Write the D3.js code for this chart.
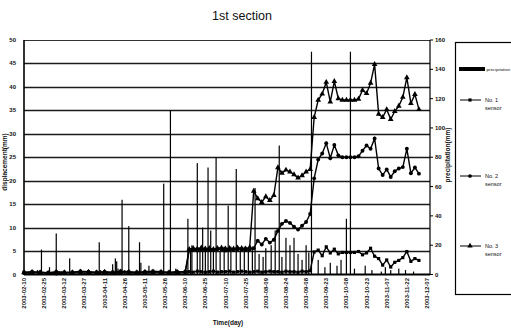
<!DOCTYPE html>
<html>
<head>
<meta charset="utf-8">
<script src="https://cdn.jsdelivr.net/npm/d3@7"></script>
<style>
  body { margin: 0; background: #fff; }
  svg { display: block; font-family: "Liberation Sans", Arial, sans-serif; }
</style>
</head>
<body>
<div id="chart"></div>
<script>
// tick labels along the time axis
const xTickLabels = ['2003-02-10', '2003-02-25', '2003-03-12', '2003-03-27', '2003-04-11', '2003-04-26',
  '2003-05-11', '2003-05-26', '2003-06-10', '2003-06-25', '2003-07-10', '2003-07-25', '2003-08-09',
  '2003-08-24', '2003-09-08', '2003-09-23', '2003-10-08', '2003-10-23', '2003-11-07', '2003-11-22', '2003-12-07'];
const leftTicks = [0, 5, 10, 15, 20, 25, 30, 35, 40, 45, 50];
const rightTicks = [0, 20, 40, 60, 80, 100, 120, 140, 160];

// sensor readings, day offsets from 2003-02-10
const sensorDays = [0, 6, 12, 18, 24, 30, 36, 42, 48, 54, 60, 66, 72, 78, 84, 90, 96, 102, 108, 114,
  120, 123, 126, 129, 132, 135, 138, 141, 144, 147, 150, 153, 156, 159, 162, 165, 168,
  171, 174, 177, 180, 183, 186, 189, 192, 195, 198, 201, 204, 207, 210, 213,
  216, 219, 222, 225, 228, 231, 234, 237, 240, 243, 246, 249, 252, 255, 258, 261, 264,
  267, 270, 273, 276, 279, 282, 285, 288, 291, 294];

const sensor1 = [0.5, 0.6, 0.5, 0.4, 0.6, 0.5, 0.5, 0.7, 0.6, 0.5, 0.6, 0.5, 0.7, 0.6, 0.5, 0.6, 0.7, 0.6, 0.5, 0.6,
  0.6, 0.6, 0.5, 0.7, 0.6, 0.5, 0.6, 0.7, 0.5, 0.6, 0.6, 0.7, 0.5, 0.6, 0.7, 0.6, 0.5,
  0.6, 0.7, 0.5, 0.6, 0.7, 0.6, 0.6, 0.5, 0.7, 0.6, 0.6, 0.5, 0.7, 0.6, 0.8,
  4.8, 5.2, 4.0, 5.9, 4.6, 5.4, 4.4, 4.7, 4.7, 4.7, 4.7, 4.9, 4.2, 4.6, 5.6, 3.9, 3.4,
  2.0, 3.1, 1.6, 2.6, 3.0, 3.6, 4.9, 2.8, 3.4, 3.0];

const sensor2 = [0.3, 0.3, 0.4, 0.3, 0.2, 0.3, 0.4, 0.3, 0.3, 0.4, 0.3, 0.3, 0.4, 0.3, 0.3, 0.4, 0.3, 0.4, 0.3, 0.3,
  0.4, 5.2, 5.3, 5.1, 5.4, 5.2, 5.3, 5.2, 5.4, 5.3, 5.1, 5.3, 5.2, 5.4, 5.3, 5.2, 5.4,
  5.6, 7.2, 6.4, 7.6, 6.8, 7.4, 9.3, 10.8, 11.4, 11.0, 10.2, 9.6, 10.4, 11.2, 12.9,
  20.5, 24.5, 25.8, 28.0, 24.8, 27.6, 25.4, 25.0, 25.0, 25.0, 25.0, 25.2, 26.4, 27.5, 26.8, 29.0, 22.6,
  21.2, 22.4, 20.8, 22.0, 22.6, 22.9, 26.8, 21.6, 22.8, 21.5];

const sensor3 = [0.4, 0.5, 0.4, 0.3, 0.5, 0.4, 0.4, 0.6, 0.5, 0.4, 0.5, 0.4, 0.6, 0.5, 0.4, 0.5, 0.6, 0.5, 0.4, 0.5,
  0.6, 5.4, 5.6, 5.5, 5.7, 5.5, 5.6, 5.4, 5.6, 5.7, 5.5, 5.6, 5.5, 5.7, 5.6, 5.5, 5.8,
  17.8, 16.2, 15.4, 16.6, 15.8, 16.9, 22.8, 21.6, 22.3, 21.9, 21.3, 20.6, 21.1, 21.9, 22.4,
  33.5, 37.2, 38.5, 41.0, 36.8, 41.2, 37.5, 37.2, 37.2, 37.2, 37.2, 37.4, 39.3, 38.6, 40.8, 44.8, 34.2,
  33.5, 35.2, 33.1, 34.8, 35.9, 37.8, 42.0, 36.5, 38.4, 35.2];

// daily precipitation (mm), day offsets from 2003-02-10
const rainDays = [3, 7, 10, 13, 14, 19, 24, 28, 34, 36, 45, 50, 56, 57, 62, 66, 68, 69, 70, 73,
  75, 78, 86, 87, 93, 97, 104, 109, 113, 116, 122, 124, 125, 129, 131, 133, 135, 137, 139, 141,
  143, 146, 149, 152, 154, 158, 161, 164, 167, 170, 172, 175, 178, 180, 184, 187, 190, 192, 195, 198,
  201, 204, 207, 210, 212, 214, 219, 224, 228, 233, 236, 240, 243, 246, 254, 259, 266, 269, 273, 279,
  284, 290];
const rainValues = [1, 2, 3, 17, 2, 5, 28, 2, 11, 1.5, 1, 2, 22, 3, 2, 7, 11, 9, 4, 51,
  3, 33, 22, 8, 6, 2, 62, 112, 4, 2, 38, 18, 20, 76, 18, 32, 19, 73, 30, 18,
  80, 16, 19, 47, 19, 72, 18, 19, 17, 19, 59, 14, 12, 18, 20, 30, 88, 12, 25, 20,
  25, 14, 10, 20, 15, 152, 10, 5, 8, 6, 10, 38, 152, 4, 6, 3, 2, 5, 3, 4,
  3, 2];

const W = 511, H = 331;
const plotLeft = 24, plotRight = 430, plotTop = 40, plotBottom = 274.5;

const start = new Date(Date.UTC(2003, 1, 10));
const toDate = d => d3.utcDay.offset(start, d);
const parse = d3.utcParse('%Y-%m-%d');

const x = d3.scaleUtc().domain([start, toDate(300)]).range([plotLeft, 427]);
const yL = d3.scaleLinear().domain([0, 50]).range([plotBottom, plotTop]);
const yR = d3.scaleLinear().domain([0, 160]).range([plotBottom, plotTop]);

const svg = d3.select('#chart').append('svg')
  .attr('width', W)
  .attr('height', H);

// title
svg.append('text')
  .attr('x', 242).attr('y', 20)
  .attr('text-anchor', 'middle')
  .attr('font-size', 12.5)
  .attr('fill', '#111')
  .text('1st section');

// grid
svg.append('g').selectAll('line')
  .data(leftTicks.filter(v => v > 0 && v < 50))
  .enter().append('line')
  .attr('x1', plotLeft).attr('x2', plotRight)
  .attr('y1', d => Math.round(yL(d)) + 0.5)
  .attr('y2', d => Math.round(yL(d)) + 0.5)
  .attr('stroke', '#1a1a1a')
  .attr('stroke-width', 1.3);

// precipitation bars
svg.append('g').selectAll('rect')
  .data(rainDays.map((d, i) => ({ d, v: rainValues[i] })))
  .enter().append('rect')
  .attr('x', d => x(toDate(d.d)) - 0.6)
  .attr('width', 1.2)
  .attr('y', d => yR(d.v))
  .attr('height', d => plotBottom - yR(d.v))
  .attr('fill', '#000');

// sensor series
const series = [
  { values: sensor1, symbol: d3.symbolSquare, size: 10 },
  { values: sensor2, symbol: d3.symbolCircle, size: 12 },
  { values: sensor3, symbol: d3.symbolTriangle, size: 14 }
];

const line = d3.line()
  .x(d => x(toDate(d.d)))
  .y(d => yL(d.v));

series.forEach(s => {
  const pts = sensorDays.map((d, i) => ({ d, v: s.values[i] }));
  const g = svg.append('g');
  g.append('path')
    .datum(pts)
    .attr('d', line)
    .attr('fill', 'none')
    .attr('stroke', '#000')
    .attr('stroke-width', 1.4);
  g.selectAll('path.mk')
    .data(pts)
    .enter().append('path')
    .attr('class', 'mk')
    .attr('transform', d => `translate(${x(toDate(d.d))},${yL(d.v)})`)
    .attr('d', d3.symbol().type(s.symbol).size(s.size))
    .attr('fill', '#000');
});

// frame
svg.append('line').attr('x1', plotLeft).attr('x2', plotRight).attr('y1', plotTop + 0.5).attr('y2', plotTop + 0.5)
  .attr('stroke', '#333').attr('stroke-width', 1);
svg.append('line').attr('x1', plotLeft).attr('x2', plotLeft).attr('y1', plotTop).attr('y2', plotBottom)
  .attr('stroke', '#000').attr('stroke-width', 1.6);
svg.append('line').attr('x1', plotRight).attr('x2', plotRight).attr('y1', plotTop).attr('y2', plotBottom)
  .attr('stroke', '#000').attr('stroke-width', 1.2);
svg.append('line').attr('x1', plotLeft).attr('x2', plotRight).attr('y1', plotBottom).attr('y2', plotBottom)
  .attr('stroke', '#000').attr('stroke-width', 1.8);

// left axis labels
svg.append('g').selectAll('text')
  .data(leftTicks)
  .enter().append('text')
  .attr('x', 16)
  .attr('y', d => yL(d) + 2)
  .attr('text-anchor', 'end')
  .attr('font-size', 6)
  .attr('font-weight', 'bold')
  .attr('fill', '#111')
  .text(d => d);

// right axis ticks and labels
const rg = svg.append('g');
rg.selectAll('line')
  .data(rightTicks)
  .enter().append('line')
  .attr('x1', plotRight).attr('x2', plotRight + 3)
  .attr('y1', d => yR(d)).attr('y2', d => yR(d))
  .attr('stroke', '#000');
rg.selectAll('text')
  .data(rightTicks)
  .enter().append('text')
  .attr('x', 435)
  .attr('y', d => yR(d) + 2)
  .attr('font-size', 6)
  .attr('font-weight', 'bold')
  .attr('fill', '#111')
  .text(d => d);

// time axis labels
svg.append('g').selectAll('text')
  .data(xTickLabels)
  .enter().append('text')
  .attr('transform', d => `translate(${x(parse(d)) + 2},278) rotate(-90)`)
  .attr('text-anchor', 'end')
  .attr('font-size', 6)
  .attr('font-weight', 'bold')
  .attr('fill', '#111')
  .text(d => d);

// axis titles
svg.append('text')
  .attr('transform', 'translate(7,162) rotate(-90)')
  .attr('text-anchor', 'middle')
  .attr('font-size', 6.5)
  .attr('font-weight', 'bold')
  .attr('fill', '#111')
  .text('displacement(mm)');
svg.append('text')
  .attr('transform', 'translate(450,155) rotate(-90)')
  .attr('text-anchor', 'middle')
  .attr('font-size', 6.5)
  .attr('font-weight', 'bold')
  .attr('fill', '#111')
  .text('precipitation(mm)');
svg.append('text')
  .attr('x', 228).attr('y', 325)
  .attr('text-anchor', 'middle')
  .attr('font-size', 6.5)
  .attr('font-weight', 'bold')
  .attr('fill', '#111')
  .text('Time(day)');

// legend
const lg = svg.append('g');
lg.append('rect')
  .attr('x', 455.5).attr('y', 42.5)
  .attr('width', 80).attr('height', 252)
  .attr('fill', 'none')
  .attr('stroke', '#000')
  .attr('stroke-width', 1.2);
lg.append('rect')
  .attr('x', 459).attr('y', 67)
  .attr('width', 26).attr('height', 4)
  .attr('fill', '#000');
lg.append('text')
  .attr('x', 486.5).attr('y', 71)
  .attr('font-size', 4.4)
  .attr('fill', '#111')
  .text('precipitation');

const legendItems = [
  { label: 'No. 1', y: 100, symbol: d3.symbolSquare, size: 10 },
  { label: 'No. 2', y: 176, symbol: d3.symbolCircle, size: 11 },
  { label: 'No. 3', y: 246, symbol: d3.symbolTriangle, size: 13 }
];
legendItems.forEach(it => {
  lg.append('line')
    .attr('x1', 460).attr('x2', 481)
    .attr('y1', it.y).attr('y2', it.y)
    .attr('stroke', '#000');
  lg.append('path')
    .attr('transform', `translate(470,${it.y})`)
    .attr('d', d3.symbol().type(it.symbol).size(it.size))
    .attr('fill', '#000');
  lg.append('text')
    .attr('x', 485).attr('y', it.y + 2)
    .attr('font-size', 5.5)
    .attr('fill', '#111')
    .text(it.label);
  lg.append('text')
    .attr('x', 485).attr('y', it.y + 10)
    .attr('font-size', 5.5)
    .attr('fill', '#111')
    .text('sensor');
});
</script>
</body>
</html>
